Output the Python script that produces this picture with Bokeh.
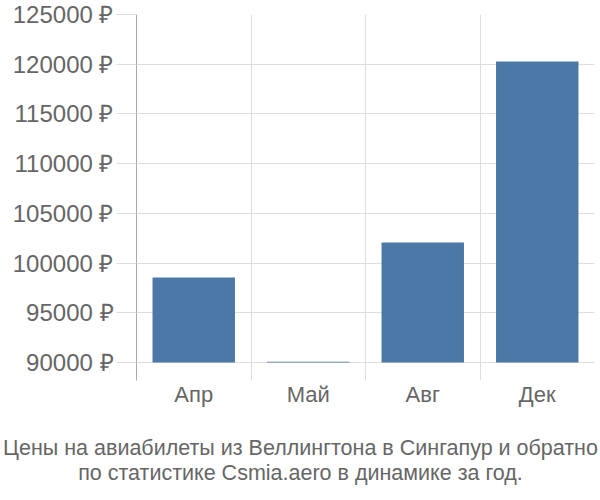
from bokeh.plotting import figure
from bokeh.layouts import column
from bokeh.models import Range1d, FixedTicker, PrintfTickFormatter, Label, ColumnDataSource
from bokeh.embed import file_html
from bokeh.resources import INLINE

months = ["Апр", "Май", "Авг", "Дек"]
prices = [98550, 90080, 102070, 120270]
base_price = 90000
y_ticks = [90000, 95000, 100000, 105000, 110000, 115000, 120000, 125000]
title_lines = ["Цены на авиабилеты из Веллингтона в Сингапур и обратно",
               "по статистике Csmia.aero в динамике за год."]

xs = [i + 0.5 for i in range(len(months))]
src = ColumnDataSource(dict(x=xs, top=prices, bottom=[base_price] * len(prices)))

FONT = "Liberation Sans"
GREY = "#666666"

p = figure(width=600, height=420, output_backend="svg", toolbar_location=None,
           x_range=Range1d(0, len(months)), y_range=Range1d(88190, 125000),
           min_border_left=136, min_border_right=6, min_border_top=14, min_border_bottom=40)
p.outline_line_color = None
p.background_fill_color = "white"
p.frame_align = False

p.vbar(x="x", top="top", bottom="bottom", width=0.72, source=src,
       fill_color="#4c78a8", line_color=None)

# y axis
p.yaxis.ticker = FixedTicker(ticks=y_ticks)
p.yaxis.formatter = PrintfTickFormatter(format="%d ₽")
p.yaxis.major_tick_out = 20
p.yaxis.major_tick_in = 0
p.yaxis.major_tick_line_color = "#dddddd"
p.yaxis.minor_tick_line_color = None
p.yaxis.axis_line_color = "#aaaaaa"
p.yaxis.major_label_standoff = 3
p.yaxis.major_label_text_font = FONT
p.yaxis.major_label_text_font_size = "24px"
p.yaxis.major_label_text_color = GREY

# x axis
p.xaxis.ticker = FixedTicker(ticks=xs)
p.xaxis.major_label_overrides = {x: m for x, m in zip(xs, months)}
p.xaxis.axis_line_color = None
p.xaxis.major_tick_line_color = None
p.xaxis.major_tick_out = 0
p.xaxis.major_tick_in = 0
p.xaxis.minor_tick_line_color = None
p.xaxis.major_label_standoff = 1
p.xaxis.major_label_text_font = FONT
p.xaxis.major_label_text_font_size = "22px"
p.xaxis.major_label_text_color = GREY

# grids
p.ygrid.ticker = FixedTicker(ticks=y_ticks)
p.ygrid.grid_line_color = "#dddddd"
p.xgrid.ticker = FixedTicker(ticks=list(range(len(months) + 1)))
p.xgrid.grid_line_color = "#dddddd"

# caption panel
cap = figure(width=600, height=80, output_backend="svg", toolbar_location=None,
             x_axis_location=None, y_axis_location=None,
             x_range=Range1d(0, 1), y_range=Range1d(0, 1), min_border=0)
cap.outline_line_color = None
cap.grid.visible = False
cap.frame_align = False
for i, line in enumerate(title_lines):
    cap.add_layout(Label(x=300, y=53 - 25 * i, x_units="screen", y_units="screen", text=line,
                         text_align="center", text_baseline="middle", text_font=FONT,
                         text_font_size="21.5px", text_color=GREY))

layout = column(p, cap, spacing=0)
open("out.html", "w").write(file_html(layout, INLINE))
